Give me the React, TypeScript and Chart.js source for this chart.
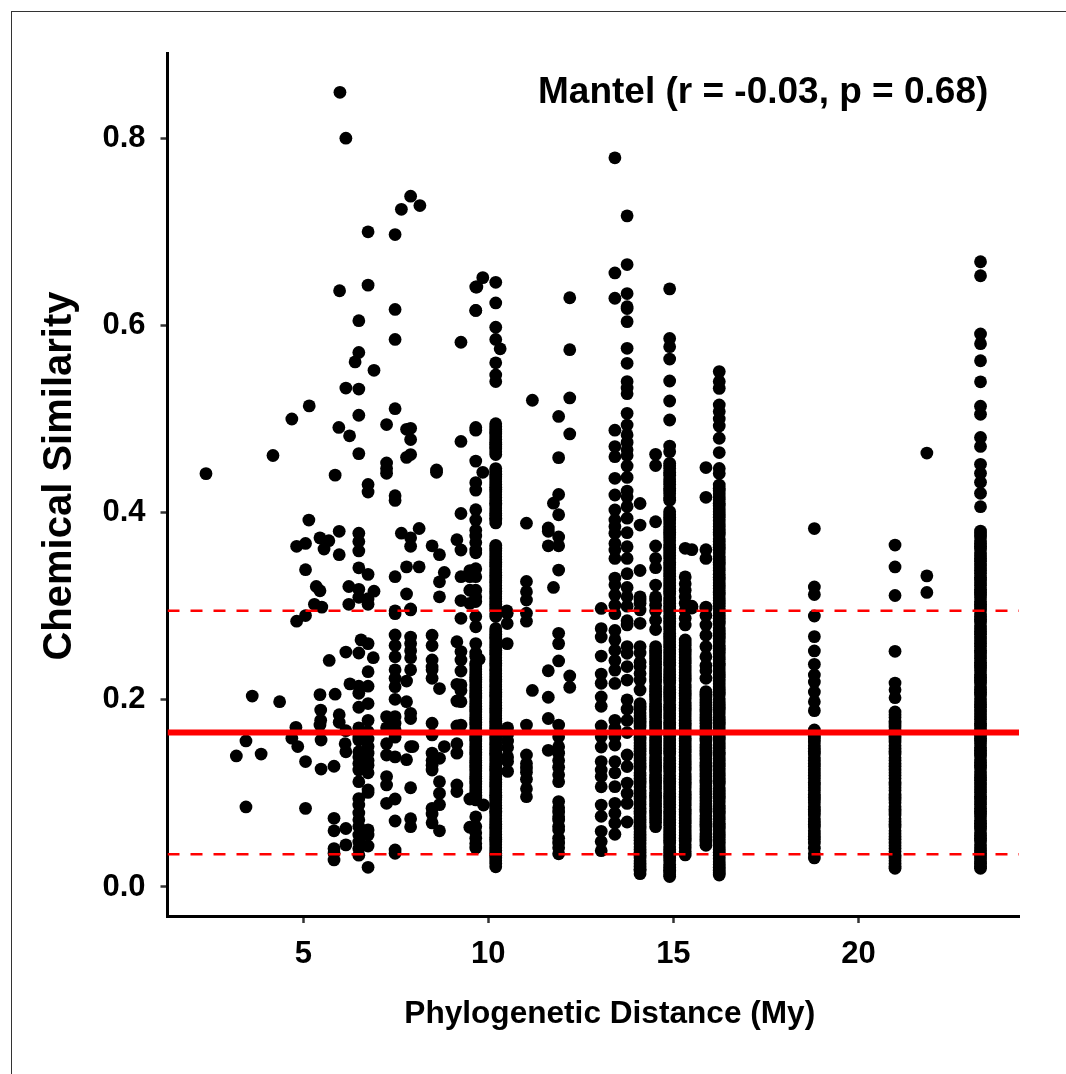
import React, { useEffect, useRef } from "react";
import { Chart, registerables } from "chart.js";

Chart.register(...registerables);

const xTicks = [5, 10, 15, 20];
const yTicks = [0, 0.2, 0.4, 0.6, 0.8];
const xRange = [1.33, 24.34];
const yRange = [-0.031, 0.891];
const meanLine = 0.165;
const lowerLine = 0.035;
const upperLine = 0.295;
const xTitle = "Phylogenetic Distance (My)";
const yTitle = "Chemical Similarity";
const noteText = "Mantel (r = -0.03, p = 0.68)";

// Scattered points as [distance, similarity]
const farLeftPoints: [number, number][] = [
  [2.37,.4416],[4.18,.461],[4.69,.5],[5.16,.514],[5.15,.392],[5.45,.373],[5.69,.37],[5.06,.367],[4.82,.364],[5.56,.361],
  [5.06,.339],[5.35,.321],[5.45,.3165],[5.3,.302],[5.5,.299],[4.82,.284],[5.06,.29],[3.62,.204],[4.36,.198],[5.45,.2055],
  [5.47,.189],[5.47,.178],[5.45,.173],[4.8,.1706],[4.69,.159],[4.85,.15],[3.45,.156],[3.19,.14],[3.86,.142],[5.06,.134],
  [5.48,.126],[5.48,.157],[3.45,.0855],[5.06,.084],[5.7,.242],
];
const nearSixPoints: [number, number][] = [
  [5.99,.849],[6.15,.8],[5.98,.637],[5.96,.491],[5.86,.44],[5.97,.38],[5.97,.355],[6.25,.482],[6.15,.533],[6.4,.561],
  [6.23,.321],[6.23,.302],[6.15,.251],[6.26,.217],[5.86,.206],[5.97,.184],[5.97,.176],[6.15,.167],[6.13,.153],[6.15,.1445],
  [5.83,.129],[5.83,.0734],[5.83,.06],[6.15,.0625],[6.15,.045],[5.83,.041],[5.83,.036],[5.83,.0289],[6.56,.264],[6.91,.552],
  [6.91,.316],[6.89,.245],
];
const col6_5 = [.605,.571,.532,.504,.463,.378,.369,.359,.341,.318,.3095,.25,.2145,.207,.192,.17,.1605,.157,.1445,.139,.132,.125,.1125,.0945,.0875,.079,.0717,.0645,.0555,.048,.041,.034];
const col6_75 = [.7,.643,.43,.422,.334,.308,.302,.26,.23,.2145,.196,.178,.166,.158,.15,.143,.135,.13,.122,.1036,.101,.061,.0555,.0438,.021];
const col7_25 = [.494,.453,.447,.442,.182,.17,.153,.141,.118,.109,.0894];
const col7_48 = [.697,.617,.585,.511,.418,.413,.3315,.295,.292,.2692,.258,.246,.232,.223,.214,.2005,.182,.175,.168,.16,.139,.094,.0705,.0395,.036];
const col7_8 = [.489,.459,.342,.313,.22,.198,.136];
const col7_9 = [.738,.49,.478,.462,.373,.364,.296,.297,.267,.26,.2525,.245,.232,.1855,.18,.15,.106,.073,.0644];
const col8_5 = [.3645,.269,.258,.2425,.235,.232,.223,.175,.1625,.143,.135,.13,.125,.084,.078,.0685];
const col8_7 = [.355,.326,.31,.212,.1375,.1125,.1,.088,.06];
const col9_2 = [.371,.262,.2165,.1987,.172,.153,.143,.109,.102];
const col9_3 = [.582,.476,.399,.36,.3315,.306,.287,.2515,.2425,.2307,.216,.21,.198,.173];
const col9_5 = [.338,.3315,.317,.303,.094,.0638];
const col9_66 = [.641,.616,.491,.488,.455,.432,.424,.403,.392,.381,.375,.368,.36,.357,.34,.3315,.317,.31,.305,.289,.278,.26,.25,.2465,.239,.233,.227,.222,.216,.21,.204,.199,.193,.187,.181,.176,.17,.164,.158,.153,.147,.141,.135,.13,.124,.118,.113,.107,.101,.096,.093,.075,.0645,.058,.052,.0465,.0417];
const col9_66b = [.236,.23,.224,.219,.213,.207,.202,.196,.19,.184,.179,.173,.167,.161,.156,.15,.144,.138,.133,.127,.121,.116,.11,.104,.098];
const col10_2 = [.646,.624,.598,.585,.56,.547,.54,.495,.489,.484,.478,.473,.468,.462,.447,.441,.436,.43,.425,.419,.413,.408,.402,.397,.392,.389,.365,.359,.353,.347,.342,.336,.33,.325,.319,.313,.308,.302,.296,.289,.276,.27,.265,.259,.253,.248,.242,.236,.231,.225,.219,.214,.208,.203,.197,.191,.186,.18,.174,.169,.163,.157,.152,.146,.141,.135,.129,.124,.118,.112,.107,.101,.096,.09,.084,.079,.073,.067,.062,.056,.051,.045,.039,.034,.028,.0216];
const col10_2b = [.492,.486,.481,.475,.47,.465,.444,.438,.433,.427,.422,.416,.41,.405,.399,.394,.362,.356,.35,.344,.339,.333,.327,.322,.316,.31,.305,.299,.292,.273,.267,.262,.256,.25,.245,.239,.233,.228,.222,.216,.211,.205,.2,.194,.188,.183,.177,.171,.166,.16,.154,.149,.143,.138,.132,.126,.121,.115,.109,.104,.098,.093,.087,.081,.076,.07,.064,.059,.053,.048,.042,.036,.031,.025];
const otherMidPoints: [number, number][] = [
  [8.15,.728],[7.65,.724],[8.13,.383],[8.13,.342],[7.65,.378],[8.81,.336],[8.81,.15],[7.96,.15],[8.6,.4455],[8.6,.443],
  [9.85,.651],[9.69,.641],[9.66,.616],[9.85,.443],[9.75,.2433],[9.87,.0876],[10.32,.575],[10.51,.2925],[10.51,.2815],[10.5,.295],
  [10.51,.26],[10.52,.17],[10.52,.163],[10.52,.156],[10.52,.149],[10.52,.139],[10.52,.134],[10.52,.1235],
  [11.19,.52],[11.19,.21],
];
const col11 = [.3887,.3264,.3155,.3065,.2925,.284,.173,.141,.132,.127,.1225,.115,.105,.0965];
const col11_6 = [.231,.2027,.18,.146,.3836,.38,.3645];
const col11_76 = [.41,.32];
const col11_9 = [.5027,.4587,.4193,.3977,.374,.3645,.3386,.271,.26,.2415,.173,.1606,.1498,.143,.135,.128,.12,.1125,.0913,.0847,.08,.075,.0715,.0645,.061,.052,.047,.042,.0355];
const col12_2 = [.6295,.574,.5225,.484,.2255,.2134];
const col13_05 = [.2976,.276,.267,.2467,.2275,.2176,.203,.193,.172,.1606,.1495,.134,.125,.118,.107,.0875,.0755,.0595,.0485,.0388];
const col13_4 = [.779,.656,.629,.488,.4705,.4597,.4366,.4188,.4028,.392,.385,.378,.367,.36,.351,.33,.323,.312,.301,.292,.274,.264,.253,.242,.2317,.2175,.178,.1695,.1606,.1517,.1339,.122,.1072,.0893,.0787,.0682,.0563];
const col13_75 = [.717,.665,.634,.62,.618,.604,.5755,.5595,.54,.533,.527,.506,.4935,.483,.475,.467,.461,.4497,.4376,.423,.4168,.4065,.394,.3785,.3635,.351,.3347,.32,.31,.3,.2845,.28,.2568,.2497,.2355,.2211,.2,.19,.178,.165,.141,.1287,.111,.1,.0893,.0694];
const col14_1 = [.4097,.3867,.3381,.31,.303,.296,.3066,.2817,.2568,.25,.24,.2355,.228,.2211,.2104,.196,.19,.183,.177,.171,.164,.157,.151,.145,.138,.132,.126,.119,.113,.107,.1,.094,.088,.081,.075,.069,.062,.056,.05,.043,.037,.031,.025,.019,.0142];
const col14_1b = [.193,.186,.18,.174,.167,.16,.154,.148,.141,.135,.129,.122,.116,.11,.103,.097,.091,.084,.078,.072,.065,.059,.053,.046,.04,.034,.028,.022,.017];
const col14_52 = [.4622,.4502,.3902,.3643,.351,.3411,.3226,.31,.301,.3066,.295,.285,.275,.2568,.25,.244,.238,.231,.225,.219,.212,.206,.2,.193,.187,.181,.174,.168,.162,.155,.149,.143,.136,.13,.124,.117,.111,.105,.098,.092,.086,.079,.073,.0644];
const col14_52b = [.253,.247,.241,.234,.228,.222,.215,.209,.203,.196,.19,.184,.177,.171,.165,.158,.152,.146,.139,.133,.127,.12,.114,.108,.101,.095,.089,.082,.076,.069];
const col14_9 = [.639,.586,.5772,.564,.5406,.5192,.4989,.4711,.4651,.4526,.447,.44,.433,.426,.42,.4133,.401,.395,.389,.382,.376,.37,.363,.357,.351,.344,.338,.332,.325,.319,.313,.306,.3,.294,.287,.281,.275,.268,.262,.256,.249,.243,.237,.23,.224,.218,.211,.205,.199,.192,.186,.18,.173,.167,.161,.154,.148,.142,.135,.129,.123,.116,.11,.104,.097,.091,.085,.078,.072,.066,.059,.053,.047,.04,.034,.028,.021,.016,.0111];
const col14_9b = [.45,.443,.436,.43,.423,.416,.398,.392,.385,.379,.373,.366,.36,.354,.347,.341,.335,.328,.322,.316,.309,.303,.297,.29,.284,.278,.271,.265,.259,.252,.246,.24,.233,.227,.221,.214,.208,.202,.195,.189,.183,.176,.17,.164,.157,.151,.145,.138,.132,.126,.119,.113,.107,.1,.094,.088,.081,.075,.069,.062,.056,.05,.043,.037,.031,.024,.018,.013];
const col15_32 = [.3618,.3313,.324,.317,.31,.303,.295,.287,.28,.2639,.258,.251,.245,.239,.232,.226,.22,.213,.207,.201,.194,.188,.182,.175,.169,.163,.156,.15,.144,.137,.131,.125,.118,.112,.106,.099,.093,.087,.08,.074,.068,.061,.055,.049,.042,.0342];
const col15_32b = [.261,.254,.248,.242,.235,.229,.223,.216,.21,.204,.197,.191,.185,.178,.172,.166,.159,.153,.147,.14,.134,.128,.121,.115,.109,.102,.096,.09,.083,.077,.071,.064,.058,.052,.045,.038];
const col15_5 = [.3604,.3,.298];
const col15_88 = [.4481,.4163,.3603,.351,.299,.2977,.29,.28,.269,.2568,.246,.2365,.231,.223,.2087,.203,.197,.19,.184,.178,.171,.165,.159,.152,.146,.14,.133,.127,.121,.114,.108,.102,.095,.089,.083,.076,.07,.064,.057,.051,.0445];
const col15_88b = [.206,.2,.194,.187,.181,.175,.168,.162,.156,.149,.143,.137,.13,.124,.118,.111,.105,.099,.092,.086,.08,.073,.067,.061,.054,.048];
const col16_24 = [.5506,.54,.5327,.515,.508,.5,.4925,.4794,.4641,.4472,.4418,.4294,.423,.417,.41,.404,.398,.391,.385,.379,.372,.366,.36,.353,.347,.341,.334,.328,.322,.315,.309,.303,.296,.29,.284,.277,.271,.265,.258,.252,.246,.239,.233,.227,.22,.214,.208,.201,.195,.189,.182,.176,.17,.163,.157,.151,.144,.138,.132,.125,.119,.113,.106,.1,.094,.087,.081,.075,.068,.062,.056,.049,.043,.037,.03,.024,.018,.0127];
const col16_24b = [.426,.42,.414,.407,.401,.395,.388,.382,.376,.369,.363,.357,.35,.344,.338,.331,.325,.319,.312,.306,.3,.293,.287,.281,.274,.268,.262,.255,.249,.243,.236,.23,.224,.217,.211,.205,.198,.192,.186,.179,.173,.167,.16,.154,.148,.141,.135,.129,.122,.116,.11,.103,.097,.091,.084,.078,.072,.065,.059,.053,.046,.04,.034,.027,.021,.015];
const col18_81 = [.3829,.3205,.3124,.2895,.2675,.2522,.2379,.2265,.2189,.2084,.1979,.1884,.1678,.161,.155,.148,.142,.135,.129,.122,.116,.109,.103,.096,.09,.083,.077,.07,.064,.057,.051,.0415,.0356,.031];
const col18_81b = [.164,.158,.151,.145,.138,.132,.125,.119,.112,.106,.099,.093,.086,.08,.073,.067,.06,.054,.047];
const col20_99 = [.3653,.3419,.3114,.2518,.2179,.2107,.2022,.187,.181,.174,.168,.161,.155,.148,.142,.135,.129,.122,.116,.109,.103,.096,.09,.083,.077,.07,.064,.057,.051,.044,.038,.031,.025,.02];
const col20_99b = [.184,.177,.171,.164,.158,.151,.145,.138,.132,.125,.119,.112,.106,.099,.093,.086,.08,.073,.067,.06,.054,.047,.041,.034,.028,.022];
const col21_85 = [.4636,.3324,.3147];
const col23_3 = [.668,.653,.5908,.5804,.5622,.5397,.5136,.505,.4802,.4707,.4516,.4421,.4325,.4206,.4063,.3802,.374,.367,.361,.354,.348,.341,.335,.328,.322,.315,.309,.302,.296,.289,.283,.276,.27,.263,.257,.25,.244,.237,.231,.224,.218,.211,.205,.198,.192,.185,.179,.172,.166,.159,.153,.146,.14,.133,.127,.12,.114,.107,.101,.094,.088,.081,.075,.068,.062,.055,.049,.042,.036,.03,.025,.02];
const col23_3b = [.377,.37,.364,.357,.351,.344,.338,.331,.325,.318,.312,.305,.299,.292,.286,.279,.273,.266,.26,.253,.247,.24,.234,.227,.221,.214,.208,.201,.195,.188,.182,.175,.169,.162,.156,.149,.143,.136,.13,.123,.117,.11,.104,.097,.091,.084,.078,.071,.065,.058,.052,.045,.039,.033,.027,.022];

const columnX = [6.5, 6.75, 7.25, 7.48, 7.79, 7.9, 8.48, 8.68, 9.15, 9.26, 9.5, 9.66, 9.66, 10.2, 10.2, 11.03, 11.62, 11.76, 11.9, 12.2, 13.05, 13.42, 13.75, 14.1, 14.1, 14.52, 14.52, 14.9, 14.9, 15.32, 15.32, 15.5, 15.88, 15.88, 16.24, 16.24, 18.81, 18.81, 20.99, 20.99, 21.85, 23.3, 23.3];
const columnY = [col6_5, col6_75, col7_25, col7_48, col7_8, col7_9, col8_5, col8_7, col9_2, col9_3, col9_5, col9_66, col9_66b, col10_2, col10_2b, col11, col11_6, col11_76, col11_9, col12_2, col13_05, col13_4, col13_75, col14_1, col14_1b, col14_52, col14_52b, col14_9, col14_9b, col15_32, col15_32b, col15_5, col15_88, col15_88b, col16_24, col16_24b, col18_81, col18_81b, col20_99, col20_99b, col21_85, col23_3, col23_3b];

const FONT = "'Liberation Sans', Arial, sans-serif";

const placeTitles = {
  id: "placeTitles",
  beforeDraw(chart: any) {
    // The axis titles sit off-centre from the plot area: shift only the title drawing.
    const shift = (scale: any, a: string, b: string, d: number) => {
      const draw = scale.drawTitle;
      scale.drawTitle = function () {
        const pa = this[a], pb = this[b];
        this[a] = pa + d; this[b] = pb + d;
        draw.call(this);
        this[a] = pa; this[b] = pb;
      };
    };
    if (!chart.$titlesPlaced) {
      chart.$titlesPlaced = true;
      shift(chart.scales.x, "left", "right", 16.5);
      shift(chart.scales.y, "top", "bottom", -8.5);
    }
  },
};

const noteLabel = {
  id: "noteLabel",
  afterDatasetsDraw(chart: any) {
    const { ctx } = chart;
    ctx.save();
    ctx.font = `bold 37px ${FONT}`;
    ctx.fillStyle = "#000";
    ctx.textAlign = "left";
    ctx.textBaseline = "alphabetic";
    ctx.fillText(noteText, 538, 103);
    ctx.restore();
  },
};

export default function App() {
  const ref = useRef<HTMLCanvasElement>(null);
  useEffect(() => {
    document.body.style.margin = "0";
    const points: { x: number; y: number }[] = [];
    [...farLeftPoints, ...nearSixPoints, ...otherMidPoints].forEach(([x, y]) => points.push({ x, y }));
    columnX.forEach((x, i) => columnY[i].forEach((y) => points.push({ x, y })));
    const hLine = (y: number) => [{ x: xRange[0], y }, { x: xRange[1], y }];
    const chart = new Chart(ref.current!, {
      type: "scatter",
      data: {
        datasets: [
          { type: "line", data: hLine(meanLine), borderColor: "#ff0000", borderWidth: 6, pointRadius: 0, order: 0 },
          { type: "line", data: hLine(upperLine), borderColor: "#ff0000", borderWidth: 2.5, borderDash: [12, 11], pointRadius: 0, order: 0 },
          { type: "line", data: hLine(lowerLine), borderColor: "#ff0000", borderWidth: 2.5, borderDash: [12, 11], pointRadius: 0, order: 0 },
          { data: points, backgroundColor: "#000", borderWidth: 0, pointRadius: 6.4, order: 1 },
        ],
      } as any,
      options: {
        responsive: false,
        animation: false,
        layout: { padding: { top: 53, right: 47, left: 0, bottom: 0 } },
        plugins: { legend: { display: false }, tooltip: { enabled: false } },
        scales: {
          x: {
            type: "linear",
            min: xRange[0],
            max: xRange[1],
            afterBuildTicks: (s: any) => { s.ticks = xTicks.map((value) => ({ value })); },
            afterFit: (s: any) => { s.height = 158; },
            grid: { drawOnChartArea: false, tickLength: 7, tickColor: "#333", tickWidth: 2.5 },
            border: { display: true, color: "#000", width: 3 },
            ticks: { color: "#000", font: { family: FONT, weight: "bold", size: 31 }, padding: 13, maxRotation: 0, callback: (v: any) => String(v) },
            title: { display: true, text: xTitle, color: "#000", font: { family: FONT, weight: "bold", size: 31.6 }, padding: { top: 0, bottom: 41 } },
          },
          y: {
            type: "linear",
            min: yRange[0],
            max: yRange[1],
            afterBuildTicks: (s: any) => { s.ticks = yTicks.map((value) => ({ value })); },
            afterFit: (s: any) => { s.width = 167.5; },
            grid: { drawOnChartArea: false, tickLength: 7, tickColor: "#333", tickWidth: 2.5 },
            border: { display: true, color: "#000", width: 3 },
            ticks: { color: "#000", font: { family: FONT, weight: "bold", size: 31 }, padding: 15, callback: (v: any) => Number(v).toFixed(1) },
            title: { display: true, text: yTitle, color: "#000", font: { family: FONT, weight: "bold", size: 40 }, padding: { top: 36, bottom: 0 } },
          },
        },
      },
      plugins: [placeTitles, noteLabel],
    } as any);
    return () => chart.destroy();
  }, []);
  return (
    <div style={{ position: "relative", width: 1066, height: 1074, overflow: "hidden" }}>
      <div style={{ position: "absolute", left: 11, top: 11, right: 0, bottom: 0, borderLeft: "1px solid #333", borderTop: "1px solid #333" }} />
      <canvas ref={ref} width={1066} height={1074} style={{ display: "block", position: "relative" }} />
    </div>
  );
}
